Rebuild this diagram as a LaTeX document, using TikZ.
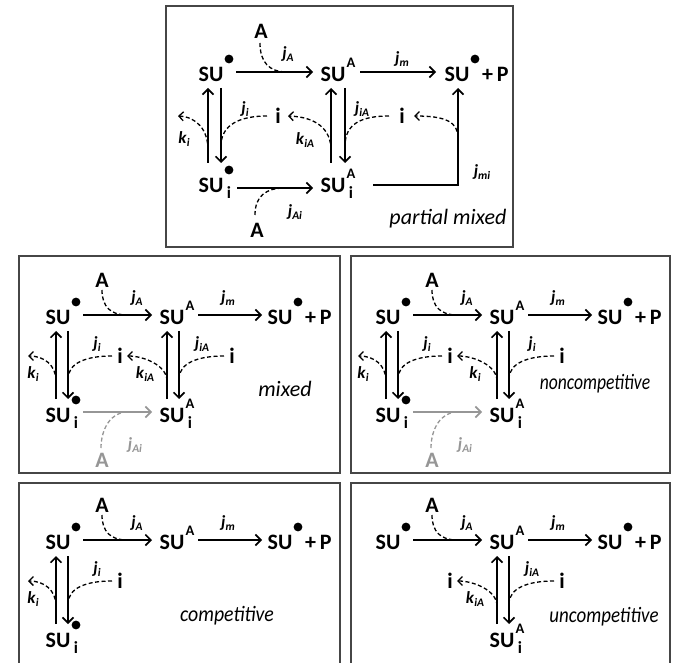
\documentclass[tikz,border=0pt]{standalone}
\usepackage{graphicx}
\usepackage{fontspec}
\setmainfont{Carlito}
\usetikzlibrary{arrows.meta}
\definecolor{boxgray}{RGB}{70,70,70}
\definecolor{lightg}{RGB}{150,150,150}

\newcommand{\SUsup}[2]{\makebox[0pt]{SU}\makebox[0pt]{\hspace{36pt}\raisebox{13.5pt}[0pt][0pt]{\fontsize{14.5}{14.5}\selectfont #1}}\makebox[0pt]{\hspace{36pt}\raisebox{-6.5pt}[0pt][0pt]{\fontsize{17}{17}\selectfont #2}}}
\newcommand{\SUplus}{\makebox[0pt]{SU}\rlap{\hspace{25pt}+\hspace{4pt}P}}
\newcommand{\rt}[2]{\textit{#1}\raisebox{-2.5pt}{\fontsize{11.5}{11.5}\selectfont\textit{#2}}}

\tikzset{
  lbl/.style={inner sep=0pt, font=\bfseries\fontsize{22}{22}\selectfont},
  rate/.style={inner sep=0pt, font=\bfseries\fontsize{17}{17}\selectfont},
  mode/.style={inner sep=0pt, font=\itshape\fontsize{22}{22}\selectfont},
  ar/.style={line width=1.6pt, -{Straight Barb[length=5.5pt,width=11pt]}},
  dln/.style={line width=1.3pt, dash pattern=on 4pt off 2.5pt},
  dar/.style={dln, -{Straight Barb[length=4.5pt,width=9pt]}},
  box/.style={draw=boxgray, line width=1.3pt},
}

\newcommand{\rowone}[1]{%
  \node[lbl] (#1s) at (0,0) {\SUsup{}{}};
  \fill (#1s.center) ++(18,-15) circle[radius=4.4pt];
  \node[lbl] (#1sa) at (114,0) {\SUsup{A}{}};
  \node[lbl] (#1sp) at (222,0) {\SUplus};
  \fill (#1sp.center) ++(18,-15) circle[radius=4.4pt];
  \node[lbl] (#1A) at (44,-37) {A};
  \node[rate] (#1jA) at (79,-19) {\rt{j}{A}};
  \node[rate] (#1jm) at (170,-19) {\rt{j}{m}};
  \draw[ar] ([shift={(25,-2)}]#1s.center) -- ([shift={(-20,-2)}]#1sa.center);
  \draw[ar] ([shift={(26,-2)}]#1sa.center) -- ([shift={(-18,-2)}]#1sp.center);
  \draw[dln] ([shift={(0,10)}]#1A.center) .. controls +(0,17) and +(-16,0) .. ([shift={(69,-2)}]#1s.center);
}
\newcommand{\leftloop}[1]{%
  \node[lbl] (#1si) at (0,98) {\SUsup{}{i}};
  \fill (#1si.center) ++(18,-15) circle[radius=4.4pt];
  \node[lbl] (#1i1) at (62,39) {i};
  \draw[ar] ([shift={(-2,-16)}]#1si.center) -- ([shift={(-2,14)}]#1s.center);
  \draw[ar] ([shift={(10,14)}]#1s.center) -- ([shift={(10,-16)}]#1si.center);
  \draw[dln] ([shift={(-8,0)}]#1i1.center) .. controls +(-26,0) and +(0,-16) .. ([shift={(10,62)}]#1s.center);
  \draw[dar] ([shift={(-2,64)}]#1s.center) .. controls +(0,-16) and +(16,0) .. ([shift={(-30,39)}]#1s.center);
  \node[rate] (#1ji) at (39,27) {\rt{j}{i}};
  \node[rate] (#1ki) at (-25,57) {\rt{k}{i}};
}
\newcommand{\midloop}[3]{%
  \node[lbl] (#1sia) at (114,98) {\SUsup{A}{i}};
  \node[lbl] (#1i2) at (174,39) {i};
  \draw[ar] ([shift={(-5,-16)}]#1sia.center) -- ([shift={(-5,14)}]#1sa.center);
  \draw[ar] ([shift={(7,14)}]#1sa.center) -- ([shift={(7,-16)}]#1sia.center);
  \draw[dln] ([shift={(-8,0)}]#1i2.center) .. controls +(-26,0) and +(0,-16) .. ([shift={(7,62)}]#1sa.center);
  \draw[dar] ([shift={(-5,64)}]#1sa.center) .. controls +(0,-16) and +(16,0) .. ([shift={(7,0)}]#1i1.center);
  \node[rate] (#1jj) at (144,27) {\rt{j}{#2}};
  \node[rate] (#1kk) at (87,57) {\rt{k}{#3}};
}
\newcommand{\greyrow}[1]{%
  \draw[ar, draw=lightg] ([shift={(25,-3)}]#1si.center) -- ([shift={(-20,-3)}]#1sia.center);
  \node[lbl, text=lightg] (#1Ab) at (44,143) {A};
  \draw[dln, draw=lightg] ([shift={(-1,-12)}]#1Ab.center) .. controls +(0,-19) and +(-16,0) .. ([shift={(69,95)}]#1s.center);
  \node[rate, text=lightg] (#1jAi) at (77,128) {\rt{j}{Ai}};
}

\begin{document}
\begin{tikzpicture}[x=1pt,y=-1pt]
\useasboundingbox (0,0) rectangle (678,663);

% frames
\draw[box] (166,6) rectangle (513,247);
\draw[box] (19,256) rectangle (340,473);
\draw[box] (351,256) rectangle (670,473);
\draw[box] (19,663) |- (340,483) -- (340,663);
\draw[box] (351,663) |- (670,483) -- (670,663);

% ---------- partial mixed ----------
\begin{scope}[shift={(211,74)}]
  \node[lbl] (Ts) at (0,0) {\SUsup{}{}};
  \fill (Ts.center) ++(18,-15) circle[radius=4.4pt];
  \node[lbl] (Tsa) at (122,0) {\SUsup{A}{}};
  \node[lbl] (Tsp) at (246,0) {\SUplus};
  \fill (Tsp.center) ++(18,-15) circle[radius=4.4pt];
  \node[lbl] (Tsi) at (0,111) {\SUsup{}{i}};
  \fill (Tsi.center) ++(18,-15) circle[radius=4.4pt];
  \node[lbl] (Tsia) at (122,111) {\SUsup{A}{i}};
  \node[lbl] (TAt) at (50,-43) {A};
  \node[lbl] (TAb) at (46,156) {A};
  \node[lbl] (Ti1) at (67,42) {i};
  \node[lbl] (Ti2) at (191,42) {i};
  \node[rate] (TjA) at (77,-20) {\rt{j}{A}};
  \node[rate] (Tjm) at (191,-15) {\rt{j}{m}};
  \node[rate] (Tji) at (34,35) {\rt{j}{i}};
  \node[rate] (Tki) at (-27,65) {\rt{k}{i}};
  \node[rate] (TkiA) at (94,66) {\rt{k}{iA}};
  \node[rate] (TjiA) at (151,35) {\rt{j}{iA}};
  \node[rate] (Tjmi) at (271,98) {\rt{j}{mi}};
  \node[rate] (TjAi) at (84,138) {\rt{j}{Ai}};
  \node[mode] (Tmode) at (237,145) {partial mixed};
  % solid arrows
  \draw[ar] ([shift={(25,-2)}]Ts.center) -- ([shift={(-20,-2)}]Tsa.center);
  \draw[ar] ([shift={(27,-2)}]Tsa.center) -- ([shift={(-21,-2)}]Tsp.center);
  \draw[ar] ([shift={(26,3)}]Tsi.center) -- ([shift={(-20,3)}]Tsia.center);
  \draw[ar] ([shift={(40,0)}]Tsia.center) -| ([shift={(1,14)}]Tsp.center);
  \draw[ar] ([shift={(-3,-22)}]Tsi.center) -- ([shift={(-3,14)}]Ts.center);
  \draw[ar] ([shift={(10,14)}]Ts.center) -- ([shift={(10,-22)}]Tsi.center);
  \draw[ar] ([shift={(-2,-22)}]Tsia.center) -- ([shift={(-2,14)}]Tsa.center);
  \draw[ar] ([shift={(12,14)}]Tsa.center) -- ([shift={(12,-22)}]Tsia.center);
  % dashed
  \draw[dln] ([shift={(-1,12)}]TAt.center) .. controls +(0,19) and +(-18,0) .. ([shift={(76,-2)}]Ts.center);
  \draw[dln] ([shift={(-2,-15)}]TAb.center) .. controls +(0,-19) and +(-19,0) .. ([shift={(74,3)}]Tsi.center);
  \draw[dln] ([shift={(-11,0)}]Ti1.center) .. controls +(-26,0) and +(0,-22) .. ([shift={(10,72)}]Ts.center);
  \draw[dar] ([shift={(-3,76)}]Ts.center) .. controls +(0,-21) and +(18,1) .. ([shift={(-33,42)}]Ts.center);
  \draw[dar] ([shift={(-2,76)}]Tsa.center) .. controls +(0,-21) and +(28,1) .. ([shift={(10,0)}]Ti1.center);
  \draw[dln] ([shift={(-13,0)}]Ti2.center) .. controls +(-28,0) and +(0,-22) .. ([shift={(12,72)}]Tsa.center);
  \draw[dar] ([shift={(1,64)}]Tsp.center) .. controls +(0,-16) and +(32,0) .. ([shift={(12,0)}]Ti2.center);
\end{scope}

% ---------- mixed ----------
\begin{scope}[shift={(58,317)}]
  \rowone{M}
  \leftloop{M}
  \midloop{M}{iA}{iA}
  \greyrow{M}
  \node[mode] (Mmode) at (227,72) {mixed};
\end{scope}

% ---------- noncompetitive ----------
\begin{scope}[shift={(388,317)}]
  \rowone{N}
  \leftloop{N}
  \midloop{N}{i}{i}
  \greyrow{N}
  \node[mode] (Nmode) at (207,67) {\scalebox{0.8}[1]{noncompetitive}};
\end{scope}

% ---------- competitive ----------
\begin{scope}[shift={(58,542)}]
  \rowone{C}
  \leftloop{C}
  \node[mode] (Cmode) at (169,74) {\scalebox{0.9}[1]{competitive}};
\end{scope}

% ---------- uncompetitive ----------
\begin{scope}[shift={(388,542)}]
  \rowone{U}
  \node[lbl] (Ui1) at (62,39) {i};
  \midloop{U}{iA}{iA}
  \node[mode] (Umode) at (216,75) {\scalebox{0.86}[1]{uncompetitive}};
\end{scope}
\end{tikzpicture}
\end{document}
